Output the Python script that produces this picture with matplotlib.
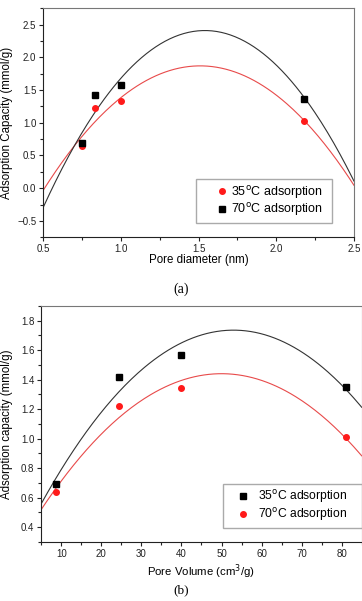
import numpy as np
import matplotlib
matplotlib.use("Agg")
import matplotlib.pyplot as plt
from matplotlib.ticker import MultipleLocator

plt.rcParams["font.family"] = ["Liberation Sans", "DejaVu Sans"]

# (a) adsorption vs pore diameter
pore_diam = [0.75, 0.83, 1.00, 2.18]
cap_35_a = [0.64, 1.22, 1.34, 1.02]
cap_70_a = [0.69, 1.42, 1.57, 1.36]
# parabolic fits: (x at peak, peak value, curvature)
fit_35_a = (1.51, 1.87, 1.862)
fit_70_a = (1.54, 2.41, 2.496)

# (b) adsorption vs pore volume
pore_vol = [8.7, 24.5, 40.0, 81.0]
cap_35_b = [0.69, 1.42, 1.57, 1.35]
cap_70_b = [0.64, 1.22, 1.345, 1.01]
fit_35_b = (53.0, 1.735, 5.1e-4)
fit_70_b = (50.0, 1.44, 4.54e-4)

RED = "#ff1a1a"
FIT_RED = "#e84a4a"
FIT_BLACK = "#333333"


def fit_line(ax, fit, lo, hi, color):
    x0, y0, a = fit
    xs = np.linspace(lo, hi, 200)
    ax.plot(xs, y0 - a * (xs - x0) ** 2, color=color, lw=0.8, zorder=2)


def style_axes(ax):
    for s in ("top", "right"):
        ax.spines[s].set_color("#777777")
    for s in ("left", "bottom"):
        ax.spines[s].set_color("#222222")
    ax.tick_params(which="both", direction="out", top=False, right=False,
                   labelsize=7, colors="#222222", pad=2)
    ax.tick_params(which="major", length=3, width=0.8)
    ax.tick_params(which="minor", length=2, width=0.8)


fig = plt.figure(figsize=(3.62, 6.01), dpi=100)

# ---- (a) ----
ax1 = fig.add_axes([0.1197, 0.6052, 0.858, 0.381])
fit_line(ax1, fit_35_a, 0.5, 2.5, FIT_RED)
fit_line(ax1, fit_70_a, 0.5, 2.5, FIT_BLACK)
ax1.plot(pore_diam, cap_35_a, "o", color=RED, ms=4, zorder=3,
         label=r"35$^{\rm o}$C adsorption")
ax1.plot(pore_diam, cap_70_a, "s", color="black", ms=3.7, zorder=3,
         label=r"70$^{\rm o}$C adsorption")
ax1.set_xlim(0.5, 2.5); ax1.set_ylim(-0.75, 2.75)
ax1.xaxis.set_major_locator(MultipleLocator(0.5)); ax1.xaxis.set_minor_locator(MultipleLocator(0.25))
ax1.yaxis.set_major_locator(MultipleLocator(0.5)); ax1.yaxis.set_minor_locator(MultipleLocator(0.25))
style_axes(ax1)
ax1.set_xlabel("Pore diameter (nm)", fontsize=8.3)
ax1.set_ylabel("Adsorption Capacity (mmol/g)", fontsize=8.3)
ax1.xaxis.set_label_coords(0.5, -0.072)
ax1.yaxis.set_label_coords(-0.098, 0.5)
ax1.legend(loc="lower left", bbox_to_anchor=(0.4905, 0.064, 0.4385, 0.16),
           mode="expand", borderaxespad=0, fontsize=9,
           frameon=True, fancybox=False, edgecolor="#aaaaaa", framealpha=1,
           handlelength=3.5, handletextpad=-1.0, borderpad=0.35, labelspacing=0.05)
fig.text(0.5, 1 - 289 / 601, "(a)", ha="center", va="center", fontsize=10,
         family="Liberation Serif")

# ---- (b) ----
ax2 = fig.add_axes([0.1141, 0.0982, 0.885, 0.393])
fit_line(ax2, fit_35_b, 5, 85, FIT_BLACK)
fit_line(ax2, fit_70_b, 5, 85, FIT_RED)
ax2.plot(pore_vol, cap_35_b, "s", color="black", ms=3.7, zorder=3,
         label=r"35$^{\rm o}$C adsorption")
ax2.plot(pore_vol, cap_70_b, "o", color=RED, ms=4, zorder=3,
         label=r"70$^{\rm o}$C adsorption")
ax2.set_xlim(5, 85); ax2.set_ylim(0.3, 1.9)
ax2.xaxis.set_major_locator(MultipleLocator(10)); ax2.xaxis.set_minor_locator(MultipleLocator(5))
ax2.yaxis.set_major_locator(MultipleLocator(0.2)); ax2.yaxis.set_minor_locator(MultipleLocator(0.1))
style_axes(ax2)
ax2.set_xlabel(r"Pore Volume (cm$^3$/g)", fontsize=8.2)
ax2.set_ylabel("Adsorption capacity (mmol/g)", fontsize=8.3)
ax2.xaxis.set_label_coords(0.5, -0.088)
ax2.yaxis.set_label_coords(-0.088, 0.5)
ax2.legend(loc="lower left", bbox_to_anchor=(0.566, 0.0605, 0.434, 0.16),
           mode="expand", borderaxespad=0, fontsize=8.7,
           frameon=True, fancybox=False, edgecolor="#aaaaaa", framealpha=1,
           handlelength=2.6, handletextpad=0.0, borderpad=0.35, labelspacing=0.1)
fig.text(0.5, 1 - 590 / 601, "(b)", ha="center", va="center", fontsize=9.5,
         family="Liberation Serif")

fig.savefig("out.png", dpi=100)
